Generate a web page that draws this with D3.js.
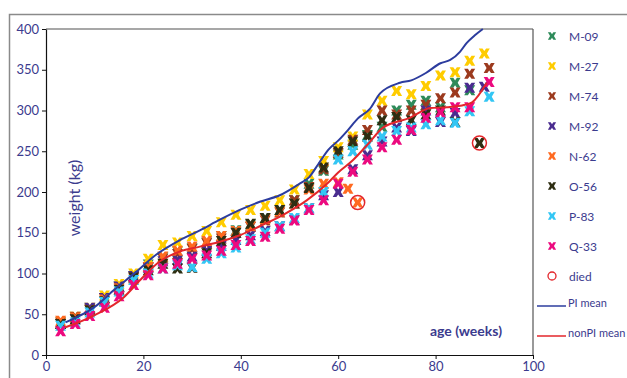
<!DOCTYPE html>
<html><head><meta charset="utf-8">
<script src="https://cdn.jsdelivr.net/npm/d3@7"></script>
<style>body{margin:0;background:#fff}svg{display:block}</style>
</head><body><svg id="c" width="627" height="378"></svg>
<script>
// ---- data ----
const seriesNames = ["M-09","M-27","M-74","M-92","N-62","O-56","P-83","Q-33"];
const seriesColors = ["#2e8b5a","#ffcc00","#9c3a1e","#4a2c8f","#ff6a21","#2e2e12","#33c6f4","#ec0a7f"];

const agesM09 = [3,6,9,12,15,18,21,24,27,30,33,36,39,42,45,48,51,54,57,60,63,66,69,72,75,78,81,84,87];
const wM09    = [38,46,57,70,84,97,111,120,127,131,138,146,153,160,168,178,190,210,226,246,258,270,280,300,307,312,304,334,325];

const agesM27 = [3,6,9,12,15,18,21,24,27,30,33,36,39,42,45,48,51,54,57,60,63,66,69,72,75,78,81,84,87,90];
const wM27    = [40,47,58,73,87,100,118,135,138,146,152,163,172,178,183,190,203,222,238,255,268,295,312,324,320,330,343,347,361,370];

const agesM74 = [3,6,9,12,15,18,21,24,27,30,33,36,39,42,45,48,51,54,57,60,63,66,69,72,75,78,81,84,87,91];
const wM74    = [40,47,56,70,83,96,108,118,124,130,137,143,150,157,165,175,190,206,228,248,264,276,300,295,300,307,315,322,345,352];

const agesM92 = [3,6,9,12,15,18,21,24,27,30,33,36,39,42,45,48,51,54,57,60,63,66,69,72,75,78,81,84,87,90];
const wM92    = [38,44,58,70,84,97,107,115,117,121,128,134,141,147,152,158,166,180,196,200,228,245,262,279,275,300,286,297,328,329];

const agesN62 = [3,6,9,12,15,18,21,24,27,30,33,36,39,42,45,48,51,54,57,60,62,64];
const wN62    = [42,46,55,68,82,94,108,121,128,133,140,146,152,158,167,176,186,203,210,212,204,187];

const agesO56 = [3,6,9,12,15,18,21,24,27,30,33,36,39,42,45,48,51,54,57,60,63,66,69,72,75,78,81,84,89];
const wO56    = [38,44,55,66,80,95,104,112,106,107,125,140,150,161,168,178,186,205,230,250,262,268,288,292,288,295,300,286,260];

const agesP83 = [3,6,9,12,15,18,21,24,27,30,33,36,39,42,45,48,51,54,57,60,63,66,69,72,75,78,81,84,87,91];
const wP83    = [36,40,52,65,78,92,100,106,110,108,118,125,132,142,150,158,168,180,200,240,250,258,268,275,279,283,288,285,299,317];

const agesQ33 = [3,6,9,12,15,18,21,24,27,30,33,36,39,42,45,48,51,54,57,60,63,66,69,72,75,78,81,84,87,91];
const wQ33    = [29,38,48,58,72,86,98,106,112,118,122,128,135,140,145,155,165,178,190,210,225,240,255,264,276,291,298,304,304,335];

const diedAges = [64, 89];
const diedWeights = [187, 260];

const piMeanAges = [4,10,14,18.5,22.6,27.5,31.6,35.7,39.8,43.9,48,52,54,56,58,60,62,64,66.5,68.6,72.7,75,78,81,83,85,86.4,88,89.7];
const piMeanW    = [40,59,80,102,123,141,153,166,178,188,196,210,218,235,252,263,276,290,302,321,334,337,346,358,362,372,383,392,400];

const nonPiAges = [4,10,16,19.5,23.4,27.5,31.6,35.7,39.8,43.9,48.7,53.6,57.7,60,63,66,69.2,74.7,78.9,82.3,86,87.5,90.5];
const nonPiW    = [34,49,71,93,115,127,133,139,147,158,172,190,210,224,239,258,279,291,303,304,307,310,334];

const xTicks = [0,20,40,60,80,100];
const yTicks = [0,50,100,150,200,250,300,350,400];

const seriesAges = [agesM09,agesM27,agesM74,agesM92,agesN62,agesO56,agesP83,agesQ33];
const seriesW = [wM09,wM27,wM74,wM92,wN62,wO56,wP83,wQ33];

// ---- drawing ----
const svg = d3.select("#c");
const navy = "#3b3b8e";
const font = "Lato, 'DejaVu Sans', sans-serif";
const x = d3.scaleLinear([0,100],[46,533]);
const y = d3.scaleLinear([0,400],[355,29]);

svg.append("rect").attr("x",9.5).attr("y",14.5).attr("width",700).attr("height",400)
  .attr("fill","none").attr("stroke","#8a8a8a").attr("stroke-width",1.5);

svg.append("line").attr("x1",46).attr("x2",533).attr("y1",29).attr("y2",29)
  .attr("stroke","#8a8a8a").attr("stroke-width",1.5);
svg.append("line").attr("x1",533).attr("x2",533).attr("y1",29).attr("y2",355)
  .attr("stroke","#555").attr("stroke-width",1.2);

const xAxis = svg.append("g").attr("transform","translate(0,355)")
  .call(d3.axisBottom(x).tickValues(xTicks).tickSize(4).tickSizeOuter(0).tickPadding(3));
const yAxis = svg.append("g").attr("transform","translate(46,0)")
  .call(d3.axisLeft(y).tickValues(yTicks).tickSize(4).tickSizeOuter(0).tickPadding(3));
[xAxis,yAxis].forEach(g=>{
  g.select(".domain").attr("stroke","#111").attr("stroke-width",1.2);
  g.selectAll(".tick line").attr("stroke","#111");
  g.selectAll(".tick text").attr("fill",navy).style("font-family",font).style("font-size","13px");
});

const markPath = "M-5.5,-5 L-1.8,-5 L0,-2.4 L1.8,-5 L5.5,-5 L2.6,0 L5.5,5 L1.8,5 L0,2.4 L-1.8,5 L-5.5,5 L-2.6,0 Z";

const plot = svg.append("g");
seriesNames.forEach((name,i)=>{
  const pts = seriesAges[i].map((a,j)=>[a, seriesW[i][j]]);
  plot.append("g").selectAll("path").data(pts).join("path")
    .attr("d",markPath)
    .attr("transform",d=>`translate(${x(d[0])},${y(d[1])})`)
    .attr("fill",seriesColors[i]);
});

const line = d3.line().x(d=>x(d[0])).y(d=>y(d[1])).curve(d3.curveMonotoneX);
svg.append("path").datum(piMeanAges.map((a,i)=>[a,piMeanW[i]]))
  .attr("d",line).attr("fill","none").attr("stroke","#2c3c9e").attr("stroke-width",2);
svg.append("path").datum(nonPiAges.map((a,i)=>[a,nonPiW[i]]))
  .attr("d",line).attr("fill","none").attr("stroke","#e3262b").attr("stroke-width",2);

svg.append("g").selectAll("circle").data(diedAges.map((a,i)=>[a,diedWeights[i]])).join("circle")
  .attr("cx",d=>x(d[0])).attr("cy",d=>y(d[1])).attr("r",7)
  .attr("fill","none").attr("stroke","#e3262b").attr("stroke-width",1.5);

svg.append("text").attr("transform","translate(80,198) rotate(-90)")
  .attr("text-anchor","middle").attr("fill",navy)
  .style("font-family",font).style("font-size","16px").text("weight (kg)");
svg.append("text").attr("x",502).attr("y",336).attr("text-anchor","end").attr("fill",navy)
  .style("font-family",font).style("font-size","14px").style("font-weight","bold").text("age (weeks)");

// legend
const leg = svg.append("g");
seriesNames.forEach((name,i)=>{
  const yy = 36 + 30*i;
  leg.append("path").attr("d",markPath).attr("transform",`translate(552,${yy}) scale(0.75)`).attr("fill",seriesColors[i]);
  leg.append("text").attr("x",569).attr("y",yy+4.5).attr("fill",navy)
    .style("font-family",font).style("font-size","12px").text(name);
});
leg.append("circle").attr("cx",552).attr("cy",276).attr("r",4).attr("fill","none").attr("stroke","#e3262b").attr("stroke-width",1.3);
leg.append("text").attr("x",569).attr("y",280.5).attr("fill",navy).style("font-family",font).style("font-size","12px").text("died");
[["PI mean","#2c3c9e",306],["nonPI mean","#e3262b",336]].forEach(([t,c,yy])=>{
  leg.append("line").attr("x1",537).attr("x2",566).attr("y1",yy).attr("y2",yy).attr("stroke",c).attr("stroke-width",1.5);
  leg.append("text").attr("x",568).attr("y",yy+1).attr("fill",navy).style("font-family",font).style("font-size","11px").text(t);
});
</script>
</body></html>
